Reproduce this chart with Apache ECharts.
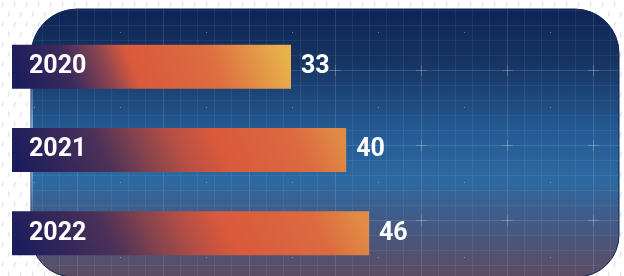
<!DOCTYPE html>
<html>
<head>
<meta charset="utf-8">
<script src="https://cdn.jsdelivr.net/npm/echarts@6/dist/echarts.min.js"></script>
<style>
  html, body { margin: 0; padding: 0; background: #fff; }
  #main { width: 624px; height: 276px; }
</style>
</head>
<body>
<div id="main"></div>
<script>
// data
var years = ['2020', '2021', '2022'];
var values = [33, 40, 46];          // numbers printed after each bar
var barLengths = [46.5, 55.7, 59.5]; // bar length on a 0-100 axis, as drawn
var axisMax = 100;

var gridLeft = 12, gridRight = 12, barHeight = 44;
var plotWidth = 624 - gridLeft - gridRight;

// per-bar colour stops (navy -> red -> orange/yellow)
var barStops = [
  [[0, '#1b1d5c'], [0.2, '#3d2b5c'], [0.33, '#8a4450'], [0.43, '#d9593c'], [0.72, '#dd6d40'], [1, '#e8b24b']],
  [[0, '#1b1d5c'], [0.27, '#4d3158'], [0.4, '#8a444c'], [0.5, '#b74f45'], [0.62, '#d9593c'], [0.86, '#dc6a40'], [1, '#e08b44']],
  [[0, '#1b1d5c'], [0.27, '#4d3158'], [0.4, '#8a444c'], [0.5, '#b74f45'], [0.6, '#d9593c'], [0.86, '#dc6a40'], [1, '#e18d44']]
];

function barGradient(i) {
  var w = barLengths[i] * plotWidth / axisMax;
  var s = 0.062 * w / barHeight; // slant of the colour bands
  var k = 1 + s * s;
  var stops = barStops[i].map(function (st) { return { offset: st[0], color: st[1] }; });
  return new echarts.graphic.LinearGradient(0, 0.5, 1 / k, 0.5 - s * w / (barHeight * k), stops);
}

// blueprint grid texture for the panel
function makeGridPattern() {
  var c = document.createElement('canvas');
  c.width = 86; c.height = 75;
  var ctx = c.getContext('2d');
  ctx.lineWidth = 1;
  ctx.strokeStyle = 'rgba(255,255,255,0.06)';
  [8, 25, 42, 59].forEach(function (x) {
    ctx.beginPath(); ctx.moveTo(x + 0.5, 0); ctx.lineTo(x + 0.5, 75); ctx.stroke();
  });
  [10, 25, 40, 55].forEach(function (y) {
    ctx.beginPath(); ctx.moveTo(0, y + 0.5); ctx.lineTo(86, y + 0.5); ctx.stroke();
  });
  ctx.strokeStyle = 'rgba(255,255,255,0.12)';
  ctx.beginPath(); ctx.moveTo(77.5, 0); ctx.lineTo(77.5, 75); ctx.stroke();
  ctx.beginPath(); ctx.moveTo(0, 70.5); ctx.lineTo(86, 70.5); ctx.stroke();
  // plus mark
  ctx.strokeStyle = 'rgba(255,255,255,0.2)';
  ctx.beginPath(); ctx.moveTo(72, 70.5); ctx.lineTo(83, 70.5); ctx.stroke();
  ctx.beginPath(); ctx.moveTo(77.5, 65); ctx.lineTo(77.5, 76); ctx.stroke();
  ctx.beginPath(); ctx.moveTo(77.5, 0); ctx.lineTo(77.5, 1); ctx.stroke();
  // dot
  ctx.fillStyle = 'rgba(255,255,255,0.35)';
  ctx.fillRect(34, 32, 1, 1);
  return c;
}

// faint dashes on the white page
function makeDashPattern() {
  var c = document.createElement('canvas');
  c.width = 12; c.height = 20;
  var ctx = c.getContext('2d');
  ctx.strokeStyle = '#dfe2ef';
  ctx.lineWidth = 1.2;
  [[2, 2], [8, 12]].forEach(function (p) {
    ctx.beginPath(); ctx.moveTo(p[0], p[1] + 5); ctx.lineTo(p[0] + 1.3, p[1]); ctx.stroke();
  });
  return c;
}

var panel = { x: 31, y: 9, width: 588, height: 268, r: [46, 44, 42, 42] };

var myChart = echarts.init(document.getElementById('main'));
myChart.setOption({
  backgroundColor: '#ffffff',
  animation: false,
  graphic: [
    {
      type: 'rect', z: -10, silent: true,
      shape: { x: 0, y: 0, width: 624, height: 276 },
      style: { fill: { image: makeDashPattern(), repeat: 'repeat' } }
    },
    {
      type: 'rect', z: -9, silent: true,
      shape: panel,
      style: {
        fill: new echarts.graphic.LinearGradient(0, 0, 0, 1, [
          { offset: 0, color: '#0e2456' },
          { offset: 0.2, color: '#163462' },
          { offset: 0.45, color: '#245a93' },
          { offset: 0.64, color: '#2d69a1' },
          { offset: 0.82, color: '#465882' },
          { offset: 1, color: '#5c4c63' }
        ]),
        stroke: '#0f2250',
        lineWidth: 1
      }
    },
    {
      type: 'rect', z: -8, silent: true,
      shape: panel,
      style: { fill: { image: makeGridPattern(), repeat: 'repeat' } }
    },
    {
      type: 'line', z: -7, silent: true,
      shape: { x1: 32, y1: 60, x2: 32, y2: 230 },
      style: {
        stroke: new echarts.graphic.LinearGradient(0, 0, 0, 1, [
          { offset: 0, color: 'rgba(150,195,240,0)' },
          { offset: 0.5, color: 'rgba(150,195,240,0.9)' },
          { offset: 1, color: 'rgba(150,195,240,0)' }
        ]),
        lineWidth: 2
      }
    }
  ],
  grid: { left: gridLeft, right: gridRight, top: 25, bottom: 1 },
  xAxis: { type: 'value', min: 0, max: axisMax, show: false },
  yAxis: { type: 'category', data: years, inverse: true, show: false },
  series: [
    {
      type: 'bar',
      data: barLengths,
      barWidth: barHeight,
      silent: true,
      itemStyle: {
        color: function (p) { return barGradient(p.dataIndex); }
      },
      label: {
        show: true,
        position: 'insideLeft',
        distance: 17,
        formatter: function (p) { return years[p.dataIndex]; },
        color: '#fff',
        fontFamily: 'Roboto',
        fontWeight: 'bold',
        fontSize: 25
      }
    },
    {
      type: 'bar',
      data: barLengths,
      barWidth: barHeight,
      barGap: '-100%',
      silent: true,
      itemStyle: { color: 'rgba(0,0,0,0)' },
      label: {
        show: true,
        position: 'right',
        distance: 10,
        formatter: function (p) { return values[p.dataIndex]; },
        color: '#fff',
        fontFamily: 'Roboto',
        fontWeight: 'bold',
        fontSize: 25
      }
    }
  ]
});
</script>
</body>
</html>
